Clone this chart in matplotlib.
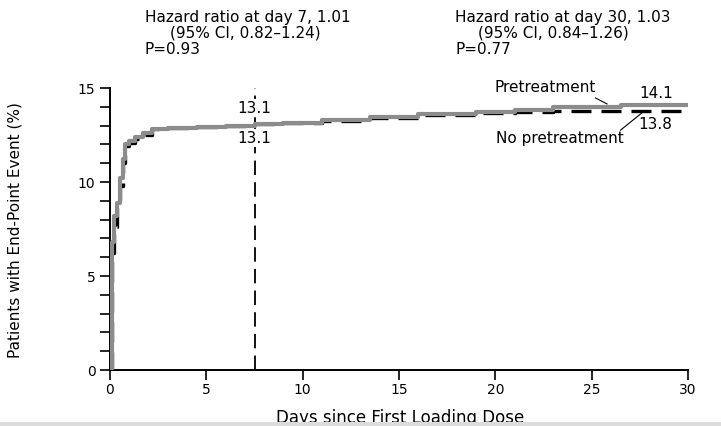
import matplotlib
matplotlib.use("Agg")
import matplotlib.pyplot as plt
from matplotlib.patches import Rectangle
from matplotlib.ticker import MultipleLocator

# Kaplan-Meier style cumulative event curves
days = [0, 0.08, 0.2, 0.35, 0.5, 0.65, 0.8, 1.0, 1.3, 1.7, 2.2, 3.0, 4.5, 6.0,
        7.5, 9.0, 11.0, 13.5, 16.0, 19.0, 21.0, 23.0, 26.5, 30.0]
pretreatment = [0, 6.8, 8.2, 8.9, 10.2, 11.2, 12.0, 12.2, 12.4, 12.6, 12.8, 12.85, 12.9, 13.0,
                13.1, 13.15, 13.3, 13.45, 13.6, 13.75, 13.85, 14.0, 14.1, 14.1]
no_pretreatment = [0, 6.2, 7.6, 8.6, 9.8, 11.0, 11.9, 12.1, 12.3, 12.5, 12.8, 12.85, 12.9, 13.0,
                   13.1, 13.12, 13.25, 13.4, 13.55, 13.65, 13.7, 13.8, 13.8, 13.8]

landmark_day = 7.5
x_ticks = [0, 5, 10, 15, 20, 25, 30]
y_ticks = [0, 5, 10, 15]

W, H = 721, 427
fig = plt.figure(figsize=(W / 100, H / 100), dpi=100)
ax = fig.add_axes([110 / W, 1 - 371 / H, (688 - 110) / W, (371 - 89) / H])


def fx(px):
    return px / W


def fy(py):
    return 1 - py / H


ax.step(days, no_pretreatment, where="post", color="black", lw=2.4,
        dashes=(6, 3), zorder=2)
ax.step(days, pretreatment, where="post", color="#8c8c8c", lw=3.0, zorder=3)

ax.axvline(landmark_day, color="black", lw=1.3, dashes=(8, 4), zorder=1)

ax.set_xlim(0, 30)
ax.set_ylim(0, 15)
ax.set_xticks(x_ticks)
ax.set_yticks(y_ticks)
ax.yaxis.set_minor_locator(MultipleLocator(1))
for s in ("top", "right"):
    ax.spines[s].set_visible(False)
for s in ("left", "bottom"):
    ax.spines[s].set_linewidth(1.4)
ax.tick_params(which="both", direction="out", length=7, width=1.2, labelsize=10)
ax.tick_params(axis="x", pad=2)

ax.set_ylabel("Patients with End-Point Event (%)", fontsize=11, labelpad=40)

fs = 11
ax.text(landmark_day, 13.55, "13.1", ha="center", va="bottom", fontsize=fs,
        bbox=dict(facecolor="white", edgecolor="none", pad=1))
ax.text(landmark_day, 12.75, "13.1", ha="center", va="top", fontsize=fs,
        bbox=dict(facecolor="white", edgecolor="none", pad=1))
ax.text(29.2, 14.35, "14.1", ha="right", va="bottom", fontsize=fs)
ax.text(29.2, 13.5, "13.8", ha="right", va="top", fontsize=fs)

ax.text(22.6, 14.7, "Pretreatment", ha="center", va="bottom", fontsize=fs)
ax.plot([25.2, 25.8], [14.47, 14.15], color="black", lw=0.8)
ax.text(23.35, 12.75, "No pretreatment", ha="center", va="top", fontsize=fs)
ax.plot([26.5, 27.6], [12.76, 13.67], color="black", lw=0.8)

# hazard ratio annotations above the plot
fig.text(fx(145), fy(22), "Hazard ratio at day 7, 1.01", fontsize=fs, va="baseline")
fig.text(fx(170), fy(38), "(95% CI, 0.82\u20131.24)", fontsize=fs, va="baseline")
fig.text(fx(145), fy(54), "P=0.93", fontsize=fs, va="baseline")
fig.text(fx(455), fy(22), "Hazard ratio at day 30, 1.03", fontsize=fs, va="baseline")
fig.text(fx(478), fy(38), "(95% CI, 0.84\u20131.26)", fontsize=fs, va="baseline")
fig.text(fx(455), fy(54), "P=0.77", fontsize=fs, va="baseline")

# x label sits right at the bottom edge above a grey strip, as in the scan
fig.text(fx(400), fy(423), "Days since First Loading Dose", fontsize=12,
         ha="center", va="baseline")
fig.patches.append(Rectangle((0, 0), 1, 4 / H, transform=fig.transFigure,
                             facecolor="#dcdcdc", edgecolor="none", zorder=5))

fig.savefig("out.png", dpi=100)
